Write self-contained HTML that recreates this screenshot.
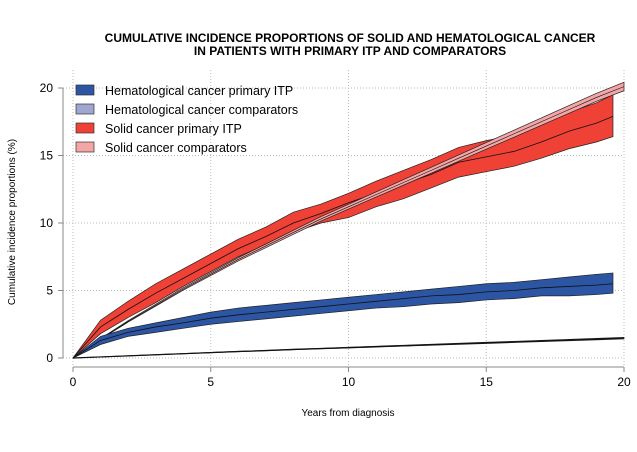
<!DOCTYPE html>
<html><head><meta charset="utf-8"><style>
body{margin:0;background:#fff;}
svg{display:block;font-family:"Liberation Sans",Arial,sans-serif;}
</style></head><body>
<svg id="c" width="637" height="452" xmlns="http://www.w3.org/2000/svg">
<text x="350" y="42" text-anchor="middle" font-size="12" font-weight="bold">CUMULATIVE INCIDENCE PROPORTIONS OF SOLID AND HEMATOLOGICAL CANCER</text>
<text x="350" y="55" text-anchor="middle" font-size="12" font-weight="bold">IN PATIENTS WITH PRIMARY ITP AND COMPARATORS</text>
<text x="348" y="416" text-anchor="middle" font-size="10">Years from diagnosis</text>
<text transform="translate(15,222) rotate(-90)" text-anchor="middle" font-size="10">Cumulative incidence proportions (%)</text>
<g id="grid"></g><g id="axes"></g><g id="marks"></g><g id="legend"></g>
</svg>
<script>
const years=[0,1,2,3,4,5,6,7,8,9,10,11,12,13,14,15,16,17,18,19,19.6];
const yearsC=[0,1,2,3,4,5,6,7,8,9,10,11,12,13,14,15,16,17,18,19,20];
const solidItp=[0,2.3,3.6,4.8,5.9,7.0,8.1,9.0,10.0,10.7,11.5,12.2,12.9,13.6,14.5,14.9,15.3,16.0,16.8,17.4,17.9];
const solidItpLo=[0,1.8,3.0,4.1,5.3,6.4,7.5,8.4,9.3,10.0,10.4,11.2,11.8,12.6,13.4,13.8,14.2,14.8,15.5,16.0,16.4];
const solidItpHi=[0,2.8,4.2,5.5,6.6,7.7,8.8,9.7,10.8,11.4,12.2,13.1,13.9,14.7,15.6,16.1,16.5,17.3,18.2,18.9,19.5];
const solidComp=[0,1.4,2.7,3.9,5.1,6.2,7.3,8.3,9.3,10.3,11.2,12.1,13.0,13.9,14.8,15.7,16.6,17.5,18.4,19.3,20.1];
const hemItp=[0,1.3,1.9,2.3,2.6,2.95,3.2,3.4,3.6,3.8,4.0,4.2,4.4,4.6,4.7,4.9,5.0,5.2,5.3,5.4,5.5];
const hemItpLo=[0,1.0,1.6,1.9,2.2,2.5,2.7,2.9,3.1,3.3,3.5,3.7,3.8,4.0,4.1,4.3,4.4,4.6,4.6,4.7,4.8];
const hemItpHi=[0,1.6,2.2,2.6,3.0,3.4,3.7,3.9,4.1,4.3,4.5,4.7,4.9,5.1,5.3,5.5,5.6,5.8,6.0,6.2,6.3];
const hemComp=[0,0.08,0.16,0.24,0.32,0.4,0.48,0.55,0.63,0.7,0.77,0.84,0.91,0.98,1.05,1.12,1.19,1.26,1.33,1.4,1.47];
const yTicks=[0,5,10,15,20];
const xTicks=[0,5,10,15,20];
const NS="http://www.w3.org/2000/svg";
const X=v=>73+v*(551/20), Y=v=>358-v*13.5;
function mk(tag,attrs,parent){const e=document.createElementNS(NS,tag);for(const k in attrs)e.setAttribute(k,attrs[k]);document.getElementById(parent).appendChild(e);return e;}
yTicks.forEach(t=>{
 const g=mk('line',{x1:63,x2:624,y1:Y(t),y2:Y(t),stroke:'#bbb','stroke-dasharray':'1,2'},'grid');
 
 
 const tk=mk('line',{x1:58,x2:63,y1:Y(t),y2:Y(t),stroke:'#888'},'axes');
 
 
 const tx=mk('text',{x:53,y:Y(t)+4,'text-anchor':'end','font-size':12},'axes');tx.textContent=t;
 
 
});
xTicks.forEach(t=>{
 const g=mk('line',{x1:X(t),x2:X(t),y1:70,y2:367,stroke:'#bbb','stroke-dasharray':'1,2'},'grid');
 
 
 const tk=mk('line',{x1:X(t),x2:X(t),y1:367,y2:372,stroke:'#888'},'axes');
 
 
 const tx=mk('text',{x:X(t),y:386,'text-anchor':'middle','font-size':12},'axes');tx.textContent=t;
 
 
});
const ya=mk('line',{x1:63,x2:63,y1:Y(20),y2:Y(0),stroke:'#888'},'axes');


const xa=mk('line',{x1:X(0),x2:X(20),y1:367,y2:367,stroke:'#888'},'axes');


function band(xs,lo,hi,fill,name){
 const pts=xs.map((x,i)=>X(x)+','+Y(hi[i])).concat(xs.map((x,i)=>X(x)+','+Y(lo[i])).reverse());
 const p=mk('polygon',{points:pts.join(' '),fill:fill,stroke:'#222','stroke-width':0.7},'marks');
 
 
}
function line(xs,ys,name,w){
 const l=mk('polyline',{points:xs.map((x,i)=>X(x)+','+Y(ys[i])).join(' '),fill:'none',stroke:'#111','stroke-width':w||0.8},'marks');
 
 
}
band(years,solidItpLo,solidItpHi,'#ef4136','solid-itp-band');
line(years,solidItp,'solid-itp-line');
band(yearsC,solidComp.map(v=>v*0.985),solidComp.map(v=>v*1.015+0.02),'#f4a6a6','solid-comp-band');
line(yearsC,solidComp,'solid-comp-line',0.6);
band(years,hemItpLo,hemItpHi,'#2c55a3','hem-itp-band');
line(years,hemItp,'hem-itp-line');
band(yearsC,hemComp.map(v=>v*0.96),hemComp.map(v=>v*1.04),'#9fa6cf','hem-comp-band');
line(yearsC,hemComp,'hem-comp-line',1.2);
const leg=[['Hematological cancer primary ITP','#2c55a3'],['Hematological cancer comparators','#9fa6cf'],['Solid cancer primary ITP','#ef4136'],['Solid cancer comparators','#f4a6a6']];
leg.forEach((d,i)=>{
 const y=85+i*19;
 const r=mk('rect',{x:76,y:y,width:18,height:10,fill:d[1],stroke:'#333','stroke-width':0.7},'legend');
 
 
 const t=mk('text',{x:105,y:y+10,'font-size':12.5},'legend');t.textContent=d[0];
 
 
});
</script>
</body></html>
